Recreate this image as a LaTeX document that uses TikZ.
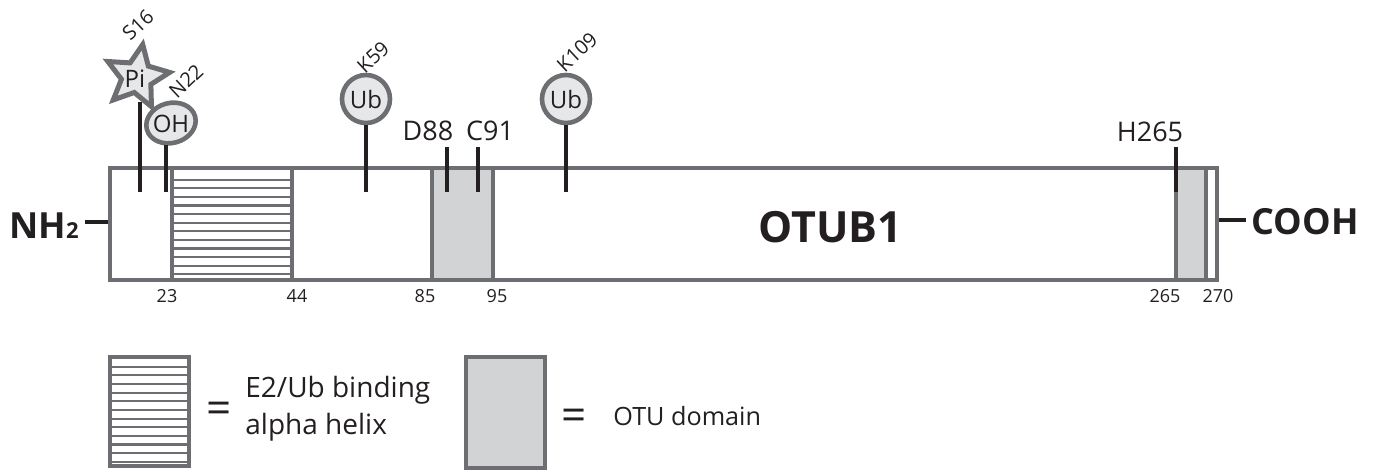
\documentclass[tikz,border=0pt]{standalone}
\usepackage{fontspec}
\setmainfont{Open Sans}
\usetikzlibrary{shapes.geometric}
\definecolor{boxgray}{HTML}{6D6E71}
\definecolor{otugray}{HTML}{D1D3D4}
\definecolor{ballgray}{HTML}{E6E7E8}
\definecolor{ink}{HTML}{231F20}
\tikzset{
  px/.style={x=0.5pt,y=-0.5pt},
  dom/.style={draw=boxgray,line width=2pt,inner sep=0pt,minimum width=#1},
  otu/.style={fill=otugray},
  ball/.style={draw=boxgray,line width=2.3pt,fill=ballgray,inner sep=0pt,text=ink},
  balltext/.style={text=ink,inner sep=0pt,font=\fontsize{12}{13}\selectfont},
  stem/.style={draw=ink,line width=2pt},
  hatch/.style={draw=boxgray,line width=1.1pt},
  site/.style={text=ink,font=\fontsize{13.5}{15}\selectfont,inner sep=0pt},
  small/.style={text=ink,font=\fontsize{9}{10}\selectfont,inner sep=0pt},
  tilt/.style={text=ink,font=\fontsize{10}{11}\selectfont,inner sep=0pt,rotate=43},
  end/.style={text=ink,font=\fontsize{18}{20}\bfseries\selectfont,inner sep=0pt},
  legend/.style={text=ink,font=\fontsize{14}{16}\selectfont,inner sep=0pt,anchor=west},
  eqs/.style={text=ink,font=\fontsize{22}{24}\selectfont,inner sep=0pt},
}
\begin{document}
\begin{tikzpicture}[px]
\useasboundingbox (0,0) rectangle (1374,472);
% protein bar
\node[dom=553.5pt,minimum height=56pt] (main) at (663.5,224) {};
\node[dom=60pt,minimum height=56pt] (helix) at (232,224) {};
\foreach \i in {1,...,12}{
  \path (helix.west) ++(0,{-53+\i*8.6}) coordinate (hl);
  \draw[hatch] (hl) -- (hl -| helix.east);
}
\node[dom=30.5pt,otu,minimum height=56pt] (otua) at (462,224) {};
\node[dom=15pt,otu,minimum height=56pt] (otub) at (1191,224) {};
\node[text=ink,font=\fontsize{21.5}{24}\bfseries\selectfont,inner sep=0pt] (name) at (830,227) {OTUB1};
% ends
\node[end] (nh) at (44,226) {NH\fontsize{11}{12}\selectfont 2};
\node[end] (cooh) at (1305,222) {COOH};
\coordinate (nhfree) at (85,222);
\coordinate (coohfree) at (1246,220);
\draw[stem] (nhfree) -- (nhfree -| main.west);
\draw[stem] (coohfree) -- (coohfree -| main.east);
% modification sites
\node[star,star points=5,star point ratio=2.1,shape border rotate=-10,draw=boxgray,line width=2.5pt,fill=ballgray,inner sep=0pt,minimum size=33pt] (pi) at (137,77) {};
\node[balltext] (pitxt) at (135,79) {Pi};
\node[ball,ellipse,minimum width=25pt,minimum height=20pt,rotate=15] (oh) at (171,123) {};
\node[balltext] (ohtxt) at (171,124) {OH};
\node[ball,circle,minimum size=24pt,balltext] (uba) at (366,99) {Ub};
\node[ball,circle,minimum size=24pt,balltext] (ubb) at (566,99) {Ub};
\node[tilt] (s16) at (138,25) {S16};
\node[tilt] (n22) at (186,81) {N22};
\node[tilt] (k59) at (373,57) {K59};
\node[tilt] (k109) at (577,52) {K109};
\node[site] (d88) at (428,131) {D88};
\node[site] (c91) at (490,131) {C91};
\node[site] (h265) at (1150,132) {H265};
\coordinate (pitop) at (140,102);
\coordinate (pifoot) at (140,192);
\coordinate (ohtop) at (166,145);
\coordinate (ohfoot) at (166,192);
\coordinate (ubafoot) at (366,192);
\coordinate (ubbfoot) at (566,192);
\coordinate (dtop) at (447,147);
\coordinate (dfoot) at (447,192);
\coordinate (ctop) at (478,147);
\coordinate (cfoot) at (478,192);
\coordinate (htop) at (1176,147);
\coordinate (hfoot) at (1176,192);
\draw[stem] (pitop) -- (pifoot);
\draw[stem] (ohtop) -- (ohfoot);
\draw[stem] (uba.south) -- (ubafoot);
\draw[stem] (ubb.south) -- (ubbfoot);
\draw[stem] (dtop) -- (dfoot);
\draw[stem] (ctop) -- (cfoot);
\draw[stem] (htop) -- (hfoot);
% residue numbers
\node[small] (n23) at (167,296) {23};
\node[small] (n44) at (297,296) {44};
\node[small] (n85) at (425,296) {85};
\node[small] (n95) at (497,296) {95};
\node[small] (n265) at (1165,296) {265};
\node[small] (n270) at (1218,296) {270};
% legend
\node[dom=39.5pt,minimum height=54.5pt] (lega) at (149.5,411.5) {};
\foreach \i in {1,...,12}{
  \path (lega.west) ++(0,{-54.5+1.05+\i*8.65}) coordinate (ll);
  \draw[hatch] (ll) -- (ll -| lega.east);
}
\node[eqs] (eqa) at (219,413) {=};
\node[legend] (txa) at (245,390) {E2/Ub binding};
\node[legend] (txb) at (245,427) {alpha helix};
\node[dom=39.5pt,otu,minimum height=55.5pt] (legb) at (505.5,412.5) {};
\node[eqs] (eqb) at (574,420) {=};
\node[legend,font=\fontsize{12.6}{15}\selectfont] (txc) at (613,416) {OTU domain};
\end{tikzpicture}
\end{document}
